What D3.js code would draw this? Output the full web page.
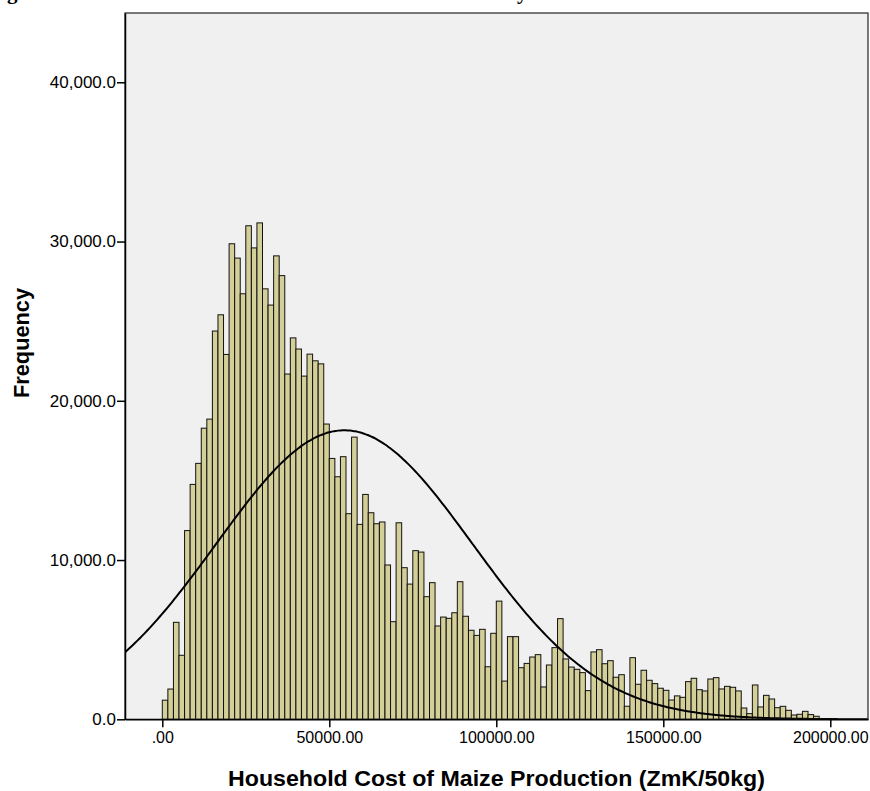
<!DOCTYPE html>
<html>
<head>
<meta charset="utf-8">
<script src="https://cdn.jsdelivr.net/npm/d3@7"></script>
<style>
  body { margin: 0; background: #fff; }
  svg text { font-family: "Liberation Sans", Arial, sans-serif; }
</style>
</head>
<body>
<div class="hist-chart"></div>
<script>
// histogram bins: start at 0, 30 bins per 50000
const binStart = 0;
const binWidth = 50000 / 30;
const binCounts = [
  1200, 1900, 6090, 4020, 11850, 14750, 16070, 18280, 18850, 24380,
  25400, 22910, 29860, 28960, 26720, 30990, 29600, 31170, 27030, 26010,
  29100, 27860, 21680, 23950, 23250, 21550, 22930, 22510, 22320, 18540,
  16380, 15230, 16490, 12910, 17720, 12240, 14120, 12970, 12280, 12390,
  9690, 6130, 12340, 9520, 8490, 10590, 10500, 7700, 8580, 5860,
  6420, 6340, 6690, 8640, 6470, 5590, 5270, 5650, 3300, 5400,
  7420, 2400, 5190, 5190, 3240, 3510, 3910, 4060, 2030, 3410,
  4500, 6320, 3790, 3280, 3140, 2930, 1800, 4230, 4370, 3490,
  3680, 2640, 2800, 820, 3870, 2200, 3080, 2450, 2240, 1950,
  1820, 1210, 1470, 1380, 2365, 2575, 1860, 1780, 2530, 2615,
  1905, 2070, 2010, 1780, 710, 355, 2155, 775, 1505, 1275,
  730, 815, 565, 270, 315, 500, 295, 190
];

// normal curve overlay
const curveMean = 54500;
const curveSd = 38400;
const curvePeak = 18150;

const xTicks = [0, 50000, 100000, 150000, 200000];
const xTickLabels = [".00", "50000.00", "100000.00", "150000.00", "200000.00"];
const yTicks = [0, 10000, 20000, 30000, 40000];
const yTickLabels = ["0.0", "10,000.0", "20,000.0", "30,000.0", "40,000.0"];

const xTitle = "Household Cost of Maize Production (ZmK/50kg)";
const yTitle = "Frequency";

const W = 870, H = 791;
const margin = {top: 13, right: 2, bottom: 71.7, left: 125};
const width = W - margin.left - margin.right;
const height = H - margin.top - margin.bottom;

const svg = d3.select(".hist-chart")
    .append("svg")
    .attr("width", W)
    .attr("height", H);

// cut-off caption remnants at the very top (only descenders visible)
svg.append("text").attr("x", 7).attr("y", -1)
    .style("font-family", "'Liberation Serif', serif")
    .style("font-weight", "bold").style("font-size", "21px").text("g");
svg.append("text").attr("x", 517).attr("y", -1)
    .style("font-family", "'Liberation Serif', serif")
    .style("font-weight", "bold").style("font-size", "21px").text("y");

const g = svg.append("g")
    .attr("transform", "translate(" + margin.left + "," + margin.top + ")");

const xScale = d3.scaleLinear()
    .domain([-11168, 211287])
    .range([0, width]);

const yScale = d3.scaleLinear()
    .domain([0, 44350])
    .range([height, 0]);

g.append("rect")
    .attr("width", width)
    .attr("height", height)
    .attr("fill", "#f0f0f0");

g.append("clipPath").attr("id", "plotclip")
  .append("rect").attr("width", width).attr("height", height);

// bars
g.append("g")
  .selectAll("rect")
  .data(binCounts)
  .join("rect")
    .attr("x", (d, i) => xScale(binStart + i * binWidth))
    .attr("width", xScale(binWidth) - xScale(0))
    .attr("y", d => yScale(d))
    .attr("height", d => yScale(0) - yScale(d))
    .attr("fill", "#d4cf98")
    .attr("stroke", "#111")
    .attr("stroke-width", 1);

// normal curve
const curvePts = d3.range(0, 301).map(k => {
  const v = xScale.domain()[0] + k / 300 * (xScale.domain()[1] - xScale.domain()[0]);
  const z = (v - curveMean) / curveSd;
  return [v, curvePeak * Math.exp(-0.5 * z * z)];
});

g.append("path")
    .datum(curvePts)
    .attr("clip-path", "url(#plotclip)")
    .attr("fill", "none")
    .attr("stroke", "#000")
    .attr("stroke-width", 2)
    .attr("d", d3.line().x(d => xScale(d[0])).y(d => yScale(d[1])).curve(d3.curveBasis));

// frame
g.append("rect")
    .attr("width", width)
    .attr("height", height)
    .attr("fill", "none")
    .attr("stroke", "#222")
    .attr("stroke-width", 1.2);

// axes
const xAxis = d3.axisBottom(xScale)
    .tickValues(xTicks)
    .tickFormat((d, i) => xTickLabels[i])
    .tickSize(8)
    .tickSizeOuter(0)
    .tickPadding(4);

const yAxis = d3.axisLeft(yScale)
    .tickValues(yTicks)
    .tickFormat((d, i) => yTickLabels[i])
    .tickSize(8)
    .tickSizeOuter(0)
    .tickPadding(1);

const gx = g.append("g")
    .attr("transform", "translate(0," + height + ")")
    .call(xAxis);
gx.select(".domain").attr("stroke", "#000").attr("stroke-width", 1.5);
gx.selectAll(".tick line").attr("stroke", "#000").attr("stroke-width", 1.5);
gx.selectAll(".tick text").attr("fill", "#000")
    .style("font-size", "16px").style("font-family", "'Liberation Sans', Arial, sans-serif");

const gy = g.append("g").call(yAxis);
gy.select(".domain").attr("stroke", "#000").attr("stroke-width", 1.5);
gy.selectAll(".tick line").attr("stroke", "#000").attr("stroke-width", 1.5);
gy.selectAll(".tick text").attr("fill", "#000")
    .style("font-size", "17px").style("font-family", "'Liberation Sans', Arial, sans-serif");

// axis titles
svg.append("text")
    .attr("x", margin.left + width / 2)
    .attr("y", 786)
    .attr("text-anchor", "middle")
    .attr("textLength", 537)
    .attr("lengthAdjust", "spacingAndGlyphs")
    .style("font-weight", "bold")
    .style("font-size", "22px")
    .text(xTitle);

svg.append("text")
    .attr("transform", "translate(29,343) rotate(-90)")
    .attr("text-anchor", "middle")
    .attr("textLength", 110)
    .attr("lengthAdjust", "spacingAndGlyphs")
    .style("font-weight", "bold")
    .style("font-size", "22px")
    .text(yTitle);
</script>
</body>
</html>
